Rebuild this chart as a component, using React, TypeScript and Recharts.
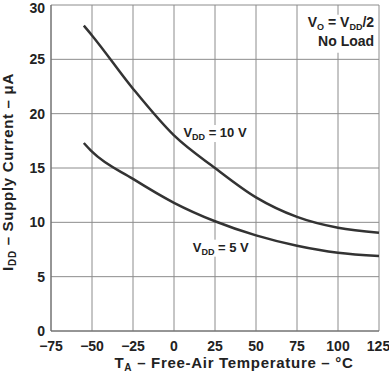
import { LineChart, Line, XAxis, YAxis, CartesianGrid, ReferenceDot } from 'recharts';

const temps = [-55, -50, -25, 0, 25, 50, 75, 100, 125];
const idd10V = [28.1, 27.2, 22.3, 18.0, 15.0, 12.3, 10.5, 9.5, 9.05];
const idd5V = [17.3, 16.5, 14.0, 11.8, 10.1, 8.8, 7.85, 7.2, 6.9];

const xTicks = [-75, -50, -25, 0, 25, 50, 75, 100, 125];
const yTicks = [0, 5, 10, 15, 20, 25, 30];

const data = temps.map((t, i) => ({ t, v10: idd10V[i], v5: idd5V[i] }));

const font = 'Liberation Sans, Arial, Helvetica, sans-serif';
const ink = '#222';

const fmtTick = (v: number) => (v < 0 ? `\u2212${Math.abs(v)}` : `${v}`);

function XTitle(props: any) {
    const vb = props.viewBox;
    const x = vb.x + vb.width / 2 + 19;
    const y = vb.y + 37;
    return (
        <text x={x} y={y} textAnchor="middle" fontFamily={font} fontWeight="bold" fontSize={15} letterSpacing={0.7} fill={ink} style={{ whiteSpace: 'pre' }}>
            <tspan>T</tspan>
            <tspan fontSize={10} dy={3}>A</tspan>
            <tspan dy={-3}> – Free-Air Temperature – °C</tspan>
        </text>
    );
}

function YTitle(props: any) {
    const vb = props.viewBox;
    const x = vb.x + 13;
    const y = vb.y + vb.height / 2 + 4;
    return (
        <text x={x} y={y} transform={`rotate(-90 ${x} ${y})`} textAnchor="middle" fontFamily={font} fontWeight="bold" fontSize={15} letterSpacing={0.7} fill={ink} style={{ whiteSpace: 'pre' }}>
            <tspan>I</tspan>
            <tspan fontSize={10} dy={3}>DD</tspan>
            <tspan dy={-3}> – Supply Current – μA</tspan>
        </text>
    );
}

// V_DD = n V label with a white box behind it
const vddLabel = (value: string, w: number) => (props: any) => {
    const { x, y } = props.viewBox;
    return (
        <g>
            <rect x={x - w / 2 + 2} y={y - 12} width={w} height={17} fill="#fff" />
            <text x={x} y={y} textAnchor="middle" fontFamily={font} fontWeight="bold" fontSize={13} fill={ink} style={{ whiteSpace: 'pre' }}>
                <tspan>V</tspan>
                <tspan fontSize={9} dy={3}>DD</tspan>
                <tspan dy={-3}>{` = ${value} V`}</tspan>
            </text>
        </g>
    );
};

function CondLabel(props: any) {
    const { x, y } = props.viewBox;
    return (
        <g>
            <rect x={x - 72} y={y - 12} width={74} height={38} fill="#fff" />
            <text x={x} y={y} textAnchor="end" fontFamily={font} fontWeight="bold" fontSize={14} fill={ink} style={{ whiteSpace: 'pre' }}>
                <tspan>V</tspan>
                <tspan fontSize={9} dy={3}>O</tspan>
                <tspan dy={-3}> = V</tspan>
                <tspan fontSize={9} dy={3}>DD</tspan>
                <tspan dy={-3}>/2</tspan>
            </text>
            <text x={x} y={y + 19} textAnchor="end" fontFamily={font} fontWeight="bold" fontSize={14} fill={ink}>
                No Load
            </text>
        </g>
    );
}

export default function App() {
    return (
        <div style={{ width: 389, height: 378, background: '#fff' }}>
            <style>{`body{margin:0}`}</style>
            <LineChart width={389} height={378} data={data} margin={{ top: 5, right: 10, bottom: 0, left: 0 }}>
                <CartesianGrid stroke="#8c8c8c" strokeWidth={1} />
                <XAxis
                    dataKey="t"
                    type="number"
                    domain={[-75, 125]}
                    ticks={xTicks}
                    height={47}
                    tickLine={false}
                    axisLine={{ stroke: '#666' }}
                    tickSize={6}
                    tickMargin={4}
                    tickFormatter={fmtTick}
                    tick={{ fontFamily: font, fontWeight: 'bold', fontSize: 14, fill: ink }}
                    label={{ content: XTitle }}
                />
                <YAxis
                    type="number"
                    domain={[0, 30]}
                    ticks={yTicks}
                    width={51}
                    tickLine={false}
                    axisLine={{ stroke: '#666' }}
                    tickSize={4}
                    tickMargin={2}
                    tick={{ fontFamily: font, fontWeight: 'bold', fontSize: 14, fill: ink }}
                    label={{ content: YTitle }}
                />
                <ReferenceDot x={25} y={17.85} r={0} stroke="none" fill="none" label={{ content: vddLabel('10', 64) }} />
                <ReferenceDot x={28.5} y={7.3} r={0} stroke="none" fill="none" label={{ content: vddLabel('5', 62) }} />
                <ReferenceDot x={122} y={28.0} r={0} stroke="none" fill="none" label={{ content: CondLabel }} />
                <Line type="monotone" dataKey="v10" stroke="#333" strokeWidth={2.5} dot={false} isAnimationActive={false} />
                <Line type="monotone" dataKey="v5" stroke="#333" strokeWidth={2.5} dot={false} isAnimationActive={false} />
            </LineChart>
        </div>
    );
}
